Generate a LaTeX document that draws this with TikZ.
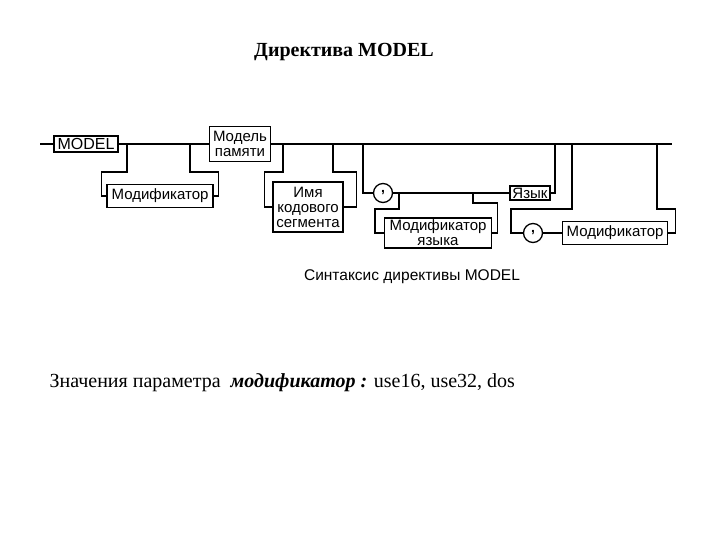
\documentclass[tikz,border=0pt]{standalone}
\usepackage{fontspec}
\setmainfont{Liberation Serif}
\setsansfont{Liberation Sans}
\usetikzlibrary{calc, positioning}

\begin{document}
\begin{tikzpicture}[x=1pt, y=-1pt,
  line/.style={line width=1.3pt},
  term/.style={draw, line width=1.3pt, inner sep=1pt, align=center,
    font=\sffamily\fontsize{15}{15}\selectfont},
  sep/.style={draw, circle, line width=1.3pt, minimum size=19pt, inner sep=0pt,
    font=\sffamily\bfseries\fontsize{14}{14}\selectfont}]
  \useasboundingbox (0,0) rectangle (720,540);

  % title
  \node[font=\bfseries\fontsize{20}{22}\selectfont]
  (title) at (344,52) {Директива MODEL};

  % syntax diagram
  \node[term, minimum width=64pt, minimum height=16pt, font=\sffamily\fontsize{16}{16}\selectfont]
  (model) at (86,144) {MODEL};
  \node[term, minimum width=61pt, minimum height=35pt]
  (memmod) at (240,144) {Модель\\памяти};
  \node[term, minimum width=106pt, minimum height=23pt]
  (mod1) at (160,196) {Модификатор};
  \node[term, minimum width=70pt, minimum height=50pt]
  (seg) at (308,207) {Имя\\кодового\\сегмента};
  \node[sep]
  (comma1) at (383,193) {,};
  \node[term, minimum width=40pt, minimum height=14pt]
  (lang) at (530,193) {Язык};
  \node[term, minimum width=107pt, minimum height=30pt]
  (langmod) at (438,233) {Модификатор\\языка};
  \node[sep]
  (comma2) at (533,233) {,};
  \node[term, minimum width=105pt, minimum height=23pt]
  (mod2) at (615,233) {Модификатор};

  % main line
  \coordinate (begin) at (40,144);
  \coordinate (finish) at (672,144);
  \draw[line] (begin) -- (model.west);
  \draw[line] (model.east) -- (memmod.west);
  \draw[line] (memmod.east) -- (finish);

  % optional modifier
  \coordinate (a1) at (127,144);
  \coordinate (a2) at (190,144);
  \draw[line] (a1) -- ++(0,28) -| ($(mod1.west)+(-5,0)$) -- (mod1.west);
  \draw[line] (mod1.east) -- ++(5,0) |- ($(a2)+(0,28)$) -- (a2);

  % optional code segment name
  \coordinate (b1) at (283,144);
  \coordinate (b2) at (333,144);
  \draw[line] (b1) -- ++(0,28) -| ($(seg.west)+(-8,0)$) -- (seg.west);
  \draw[line] (seg.east) -- ++(13,0) |- ($(b2)+(0,28)$) -- (b2);

  % optional language
  \coordinate (c1) at (363,144);
  \coordinate (c2) at (555,144);
  \draw[line] (c1) |- (comma1.west);
  \draw[line] (comma1.east) -- (lang.west);
  \draw[line] (lang.east) -- (lang.east -| c2) -- (c2);

  % optional language modifier
  \coordinate (d1) at (399,193);
  \coordinate (d2) at (473,193);
  \draw[line] (d1) -- ++(0,16) -| ($(langmod.west)+(-9,0)$) -- (langmod.west);
  \draw[line] (langmod.east) -- ++(5,0) |- ($(d2)+(0,10)$) -- (d2);

  % optional modifier at the end
  \coordinate (e1) at (572,144);
  \coordinate (e2) at (657,144);
  \draw[line] (e1) -- ++(0,65) -| ($(comma2.west)+(-12,0)$) -- (comma2.west);
  \draw[line] (comma2.east) -- (mod2.west);
  \draw[line] (mod2.east) -- ++(7,0) |- ($(e2)+(0,65)$) -- (e2);

  % captions
  \node[font=\sffamily\fontsize{15.5}{17}\selectfont]
  (caption) at (412,277) {Синтаксис директивы MODEL};
  \node[anchor=west, font=\fontsize{20}{22}\selectfont]
  (values) at (46,383) {Значения параметра\ \ \textbf{\textit{модификатор :}} use16, use32, dos};
\end{tikzpicture}
\end{document}
